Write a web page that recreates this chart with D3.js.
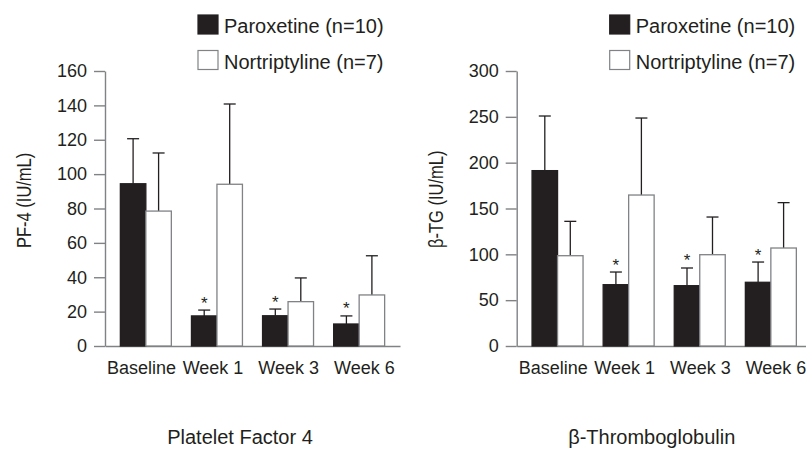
<!DOCTYPE html>
<html>
<head>
<meta charset="utf-8">
<script src="https://cdn.jsdelivr.net/npm/d3@7/dist/d3.min.js"></script>
<style>
  html, body { margin: 0; padding: 0; background: #fff; }
  svg { display: block; }
  text { font-family: "Liberation Sans", Arial, Helvetica, sans-serif; fill: #231f20; }
</style>
</head>
<body>
<svg id="chart" width="806" height="450"></svg>
<script>
// ---- data ----
const categories = ["Baseline", "Week 1", "Week 3", "Week 6"];
const seriesNames = ["Paroxetine (n=10)", "Nortriptyline (n=7)"];

const pf4Paroxetine     = [94.4, 17.5, 17.6, 12.8];
const pf4ParoxetineSD   = [26.2, 3.4, 3.9, 4.7];
const pf4Nortriptyline  = [78.5, 94.1, 25.8, 29.7];
const pf4NortriptylineSD= [33.8, 46.7, 13.8, 22.8];

const btgParoxetine     = [191.3, 66.9, 65.8, 69.5];
const btgParoxetineSD   = [59.6, 13.8, 19.3, 22.1];
const btgNortriptyline  = [98.5, 164.7, 99.6, 106.9];
const btgNortriptylineSD= [37.5, 84.0, 41.1, 49.5];

const paroxetineSignificant = [false, true, true, true];

const pf4Ticks = [0, 20, 40, 60, 80, 100, 120, 140, 160];
const btgTicks = [0, 50, 100, 150, 200, 250, 300];

const panels = [
  { x0: 105,   yTitle: "PF-4 (IU/mL)", title: "Platelet Factor 4", max: 160, ticks: pf4Ticks,
    a: pf4Paroxetine, aSD: pf4ParoxetineSD, b: pf4Nortriptyline, bSD: pf4NortriptylineSD },
  { x0: 516.7, yTitle: "β-TG (IU/mL)", title: "β-Thromboglobulin", max: 300, ticks: btgTicks,
    a: btgParoxetine, aSD: btgParoxetineSD, b: btgNortriptyline, bSD: btgNortriptylineSD }
];

// ---- drawing ----
const svg = d3.select("#chart");
const dark = "#231f20", grey = "#808285";
const yTop = 71, yBot = 346, plotW = 295;

panels.forEach(p => {
  const g = svg.append("g");
  const y = d3.scaleLinear().domain([0, p.max]).range([yBot, yTop]);
  const x = d3.scaleBand().domain(categories).range([p.x0, p.x0 + plotW])
    .paddingInner(0.283).paddingOuter(0.216);
  const xs = d3.scaleBand().domain(["a", "b"]).range([0, x.bandwidth()]);
  const xl = d3.scalePoint().domain(categories).range([p.x0 + 2, p.x0 + 229]);

  // x axis baseline
  const xAxis = g.append("g").attr("transform", `translate(0,${yBot})`)
    .call(d3.axisBottom(x).tickSize(0).tickSizeOuter(0).tickFormat(""));
  xAxis.select(".domain").attr("stroke", grey).attr("stroke-width", 1.4);

  // y axis
  const yAxis = g.append("g").attr("transform", `translate(${p.x0},0)`)
    .call(d3.axisLeft(y).tickValues(p.ticks).tickSize(11).tickSizeOuter(0).tickPadding(7));
  yAxis.select(".domain").attr("stroke", grey).attr("stroke-width", 1.4);
  yAxis.selectAll(".tick line").attr("stroke", grey).attr("stroke-width", 1.4);
  yAxis.selectAll(".tick text").attr("fill", dark)
    .style("font-size", "18px").style("font-family", '"Liberation Sans", Arial, sans-serif');

  // bars
  const rows = categories.map((c, i) => ({ c, i }));
  const series = [
    { key: "a", vals: p.a, sd: p.aSD, fill: dark, stroke: dark },
    { key: "b", vals: p.b, sd: p.bSD, fill: "#fff", stroke: grey }
  ];
  series.forEach(s => {
    // error bars
    g.selectAll(null).data(rows).enter().append("line")
      .attr("x1", d => x(d.c) + xs(s.key) + xs.bandwidth() / 2)
      .attr("x2", d => x(d.c) + xs(s.key) + xs.bandwidth() / 2)
      .attr("y1", d => y(s.vals[d.i]))
      .attr("y2", d => y(s.vals[d.i] + s.sd[d.i]))
      .attr("stroke", dark).attr("stroke-width", 1.3);
    g.selectAll(null).data(rows).enter().append("line")
      .attr("x1", d => x(d.c) + xs(s.key) + xs.bandwidth() / 2 - 6)
      .attr("x2", d => x(d.c) + xs(s.key) + xs.bandwidth() / 2 + 6)
      .attr("y1", d => y(s.vals[d.i] + s.sd[d.i]))
      .attr("y2", d => y(s.vals[d.i] + s.sd[d.i]))
      .attr("stroke", dark).attr("stroke-width", 1.3);
    g.selectAll(null).data(rows).enter().append("rect")
      .attr("x", d => x(d.c) + xs(s.key))
      .attr("y", d => y(s.vals[d.i]))
      .attr("width", xs.bandwidth())
      .attr("height", d => y(0) - y(s.vals[d.i]))
      .attr("fill", s.fill).attr("stroke", s.stroke).attr("stroke-width", 1.3);
  });

  // significance asterisks
  g.selectAll(null).data(rows.filter(d => paroxetineSignificant[d.i])).enter().append("text")
    .attr("x", d => x(d.c) + xs("a") + xs.bandwidth() / 2)
    .attr("y", d => y(p.a[d.i] + p.aSD[d.i]) - 1.5)
    .attr("text-anchor", "middle").style("font-size", "17px").text("*");

  // x labels
  g.selectAll(null).data(categories).enter().append("text")
    .attr("x", d => xl(d)).attr("y", 374)
    .style("font-size", "18px").text(d => d);

  // y title
  g.append("text")
    .attr("transform", `translate(${p.x0 - 74},248) rotate(-90) scale(1,1.28)`)
    .style("font-size", "16.5px").text(p.yTitle);

  // bottom title
  g.append("text").attr("x", p.x0 + 135).attr("y", 444)
    .attr("text-anchor", "middle").style("font-size", "20px").text(p.title);

  // legend
  const lg = g.append("g").attr("transform", `translate(${p.x0 + 93},0)`);
  seriesNames.forEach((name, i) => {
    lg.append("rect").attr("x", 0).attr("y", 15 + i * 35.5).attr("width", 20).attr("height", 19)
      .attr("fill", i === 0 ? dark : "#fff").attr("stroke", i === 0 ? dark : grey).attr("stroke-width", 1.2);
    lg.append("text").attr("x", 26).attr("y", 33 + i * 35.5)
      .style("font-size", "20px").text(name);
  });
});
</script>
</body>
</html>
